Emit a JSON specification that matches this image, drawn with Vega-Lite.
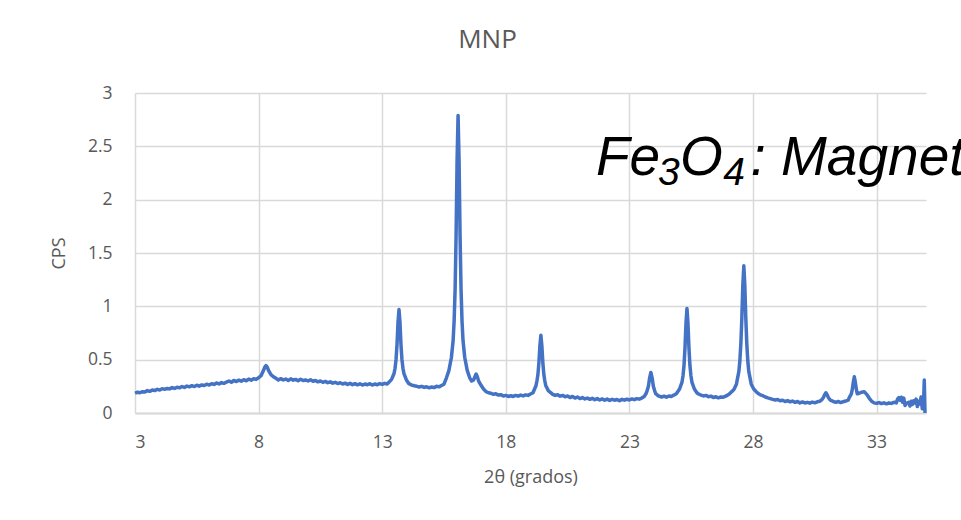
{
  "$schema": "https://vega.github.io/schema/vega-lite/v6.json",
  "width": 791,
  "height": 320,
  "autosize": {"type": "none"},
  "padding": {"left": 135, "top": 93, "right": 35, "bottom": 107},
  "background": "white",
  "config": {
    "view": {"stroke": null},
    "font": "Open Sans",
    "axis": {
      "gridColor": "#d9d9d9",
      "gridWidth": 1.5,
      "ticks": false,
      "tickSize": 0,
      "labelColor": "#595959",
      "labelFontSize": 17.5,
      "labelFont": "Open Sans",
      "titleColor": "#595959",
      "titleFontSize": 18,
      "titleFont": "Open Sans",
      "titleFontWeight": "normal"
    }
  },
  "title": {
    "text": "MNP",
    "fontSize": 26,
    "font": "Open Sans",
    "fontWeight": "normal",
    "color": "#595959",
    "anchor": "middle",
    "dx": -43,
    "offset": 31
  },
  "datasets": {
    "labels": [
      {"t": 21.65, "cps": 2.231, "txt": "Fe", "kind": "main"},
      {"t": 24.16, "cps": 2.138, "txt": "3", "kind": "sub"},
      {"t": 25.05, "cps": 2.231, "txt": "O", "kind": "main"},
      {"t": 26.8, "cps": 2.138, "txt": "4", "kind": "sub"},
      {"t": 27.9, "cps": 2.231, "txt": ": Magnetita", "kind": "main"}
    ]
  },
  "data": {
    "values": [
      {"t": 3.0, "cps": 0.185}, {"t": 3.1, "cps": 0.195}, {"t": 3.2, "cps": 0.19}, {"t": 3.3, "cps": 0.2}, {"t": 3.4, "cps": 0.197},
      {"t": 3.5, "cps": 0.21}, {"t": 3.6, "cps": 0.203}, {"t": 3.7, "cps": 0.215}, {"t": 3.8, "cps": 0.21}, {"t": 3.9, "cps": 0.222},
      {"t": 4.0, "cps": 0.215}, {"t": 4.1, "cps": 0.228}, {"t": 4.2, "cps": 0.222}, {"t": 4.3, "cps": 0.23}, {"t": 4.4, "cps": 0.226},
      {"t": 4.5, "cps": 0.238}, {"t": 4.6, "cps": 0.23}, {"t": 4.7, "cps": 0.242}, {"t": 4.8, "cps": 0.236}, {"t": 4.9, "cps": 0.248},
      {"t": 5.0, "cps": 0.24}, {"t": 5.1, "cps": 0.252}, {"t": 5.2, "cps": 0.245}, {"t": 5.3, "cps": 0.256}, {"t": 5.4, "cps": 0.248},
      {"t": 5.5, "cps": 0.26}, {"t": 5.6, "cps": 0.252}, {"t": 5.7, "cps": 0.263}, {"t": 5.8, "cps": 0.258}, {"t": 5.9, "cps": 0.27},
      {"t": 6.0, "cps": 0.262}, {"t": 6.1, "cps": 0.275}, {"t": 6.2, "cps": 0.268}, {"t": 6.3, "cps": 0.282}, {"t": 6.4, "cps": 0.272},
      {"t": 6.5, "cps": 0.285}, {"t": 6.6, "cps": 0.278}, {"t": 6.7, "cps": 0.29}, {"t": 6.8, "cps": 0.3}, {"t": 6.9, "cps": 0.288},
      {"t": 7.0, "cps": 0.305}, {"t": 7.1, "cps": 0.295}, {"t": 7.2, "cps": 0.308}, {"t": 7.3, "cps": 0.298}, {"t": 7.4, "cps": 0.312},
      {"t": 7.5, "cps": 0.302}, {"t": 7.6, "cps": 0.318}, {"t": 7.7, "cps": 0.308}, {"t": 7.8, "cps": 0.322}, {"t": 7.9, "cps": 0.315},
      {"t": 8.0, "cps": 0.33}, {"t": 8.1, "cps": 0.35}, {"t": 8.2, "cps": 0.4}, {"t": 8.25, "cps": 0.43}, {"t": 8.3, "cps": 0.445},
      {"t": 8.35, "cps": 0.43}, {"t": 8.4, "cps": 0.4}, {"t": 8.5, "cps": 0.36}, {"t": 8.6, "cps": 0.34}, {"t": 8.7, "cps": 0.325},
      {"t": 8.8, "cps": 0.31}, {"t": 8.9, "cps": 0.322}, {"t": 9.0, "cps": 0.31}, {"t": 9.1, "cps": 0.318}, {"t": 9.2, "cps": 0.305},
      {"t": 9.3, "cps": 0.32}, {"t": 9.4, "cps": 0.308}, {"t": 9.5, "cps": 0.315}, {"t": 9.6, "cps": 0.302}, {"t": 9.7, "cps": 0.316},
      {"t": 9.8, "cps": 0.305}, {"t": 9.9, "cps": 0.31}, {"t": 10.0, "cps": 0.3}, {"t": 10.1, "cps": 0.312}, {"t": 10.2, "cps": 0.298},
      {"t": 10.3, "cps": 0.305}, {"t": 10.4, "cps": 0.292}, {"t": 10.5, "cps": 0.3}, {"t": 10.6, "cps": 0.288}, {"t": 10.7, "cps": 0.296},
      {"t": 10.8, "cps": 0.284}, {"t": 10.9, "cps": 0.292}, {"t": 11.0, "cps": 0.28}, {"t": 11.1, "cps": 0.288}, {"t": 11.2, "cps": 0.276},
      {"t": 11.3, "cps": 0.284}, {"t": 11.4, "cps": 0.272}, {"t": 11.5, "cps": 0.28}, {"t": 11.6, "cps": 0.268}, {"t": 11.7, "cps": 0.278},
      {"t": 11.8, "cps": 0.266}, {"t": 11.9, "cps": 0.275}, {"t": 12.0, "cps": 0.264}, {"t": 12.1, "cps": 0.274}, {"t": 12.2, "cps": 0.262},
      {"t": 12.3, "cps": 0.272}, {"t": 12.4, "cps": 0.265}, {"t": 12.5, "cps": 0.275}, {"t": 12.6, "cps": 0.262}, {"t": 12.7, "cps": 0.272},
      {"t": 12.8, "cps": 0.265}, {"t": 12.9, "cps": 0.276}, {"t": 13.0, "cps": 0.268}, {"t": 13.1, "cps": 0.278}, {"t": 13.2, "cps": 0.272},
      {"t": 13.28, "cps": 0.29}, {"t": 13.38, "cps": 0.315}, {"t": 13.48, "cps": 0.37}, {"t": 13.52, "cps": 0.42}, {"t": 13.56, "cps": 0.5},
      {"t": 13.6, "cps": 0.64}, {"t": 13.64, "cps": 0.85}, {"t": 13.68, "cps": 0.97}, {"t": 13.72, "cps": 0.85}, {"t": 13.76, "cps": 0.64},
      {"t": 13.8, "cps": 0.5}, {"t": 13.84, "cps": 0.42}, {"t": 13.88, "cps": 0.37}, {"t": 13.98, "cps": 0.31}, {"t": 14.08, "cps": 0.275},
      {"t": 14.2, "cps": 0.262}, {"t": 14.3, "cps": 0.255}, {"t": 14.4, "cps": 0.25}, {"t": 14.5, "cps": 0.244}, {"t": 14.6, "cps": 0.25},
      {"t": 14.7, "cps": 0.24}, {"t": 14.8, "cps": 0.246}, {"t": 14.9, "cps": 0.236}, {"t": 15.0, "cps": 0.244}, {"t": 15.1, "cps": 0.238},
      {"t": 15.2, "cps": 0.25}, {"t": 15.3, "cps": 0.245}, {"t": 15.4, "cps": 0.258}, {"t": 15.5, "cps": 0.27}, {"t": 15.6, "cps": 0.33},
      {"t": 15.7, "cps": 0.4}, {"t": 15.8, "cps": 0.52}, {"t": 15.87, "cps": 0.68}, {"t": 15.91, "cps": 0.86}, {"t": 15.95, "cps": 1.16},
      {"t": 15.99, "cps": 1.67}, {"t": 16.03, "cps": 2.37}, {"t": 16.07, "cps": 2.79}, {"t": 16.11, "cps": 2.37}, {"t": 16.15, "cps": 1.67},
      {"t": 16.19, "cps": 1.16}, {"t": 16.23, "cps": 0.86}, {"t": 16.27, "cps": 0.68}, {"t": 16.34, "cps": 0.52}, {"t": 16.44, "cps": 0.4},
      {"t": 16.54, "cps": 0.33}, {"t": 16.62, "cps": 0.3}, {"t": 16.7, "cps": 0.31}, {"t": 16.75, "cps": 0.34}, {"t": 16.8, "cps": 0.365},
      {"t": 16.85, "cps": 0.34}, {"t": 16.9, "cps": 0.3}, {"t": 17.0, "cps": 0.26}, {"t": 17.1, "cps": 0.225}, {"t": 17.2, "cps": 0.2},
      {"t": 17.3, "cps": 0.19}, {"t": 17.4, "cps": 0.185}, {"t": 17.5, "cps": 0.175}, {"t": 17.6, "cps": 0.18}, {"t": 17.7, "cps": 0.168},
      {"t": 17.8, "cps": 0.172}, {"t": 17.9, "cps": 0.16}, {"t": 18.0, "cps": 0.165}, {"t": 18.1, "cps": 0.155}, {"t": 18.2, "cps": 0.162},
      {"t": 18.3, "cps": 0.155}, {"t": 18.4, "cps": 0.165}, {"t": 18.5, "cps": 0.158}, {"t": 18.6, "cps": 0.168}, {"t": 18.7, "cps": 0.16},
      {"t": 18.8, "cps": 0.17}, {"t": 18.9, "cps": 0.165}, {"t": 19.0, "cps": 0.178}, {"t": 19.1, "cps": 0.19}, {"t": 19.22, "cps": 0.255},
      {"t": 19.26, "cps": 0.3}, {"t": 19.3, "cps": 0.36}, {"t": 19.34, "cps": 0.47}, {"t": 19.38, "cps": 0.63}, {"t": 19.42, "cps": 0.73},
      {"t": 19.46, "cps": 0.63}, {"t": 19.5, "cps": 0.47}, {"t": 19.54, "cps": 0.36}, {"t": 19.58, "cps": 0.3}, {"t": 19.62, "cps": 0.255},
      {"t": 19.72, "cps": 0.21}, {"t": 19.82, "cps": 0.19}, {"t": 19.9, "cps": 0.175}, {"t": 20.0, "cps": 0.165}, {"t": 20.1, "cps": 0.172},
      {"t": 20.2, "cps": 0.158}, {"t": 20.3, "cps": 0.165}, {"t": 20.4, "cps": 0.152}, {"t": 20.5, "cps": 0.16}, {"t": 20.6, "cps": 0.145},
      {"t": 20.7, "cps": 0.155}, {"t": 20.8, "cps": 0.14}, {"t": 20.9, "cps": 0.15}, {"t": 21.0, "cps": 0.135}, {"t": 21.1, "cps": 0.145},
      {"t": 21.2, "cps": 0.132}, {"t": 21.3, "cps": 0.14}, {"t": 21.4, "cps": 0.128}, {"t": 21.5, "cps": 0.138}, {"t": 21.6, "cps": 0.125},
      {"t": 21.7, "cps": 0.135}, {"t": 21.8, "cps": 0.122}, {"t": 21.9, "cps": 0.132}, {"t": 22.0, "cps": 0.12}, {"t": 22.1, "cps": 0.13},
      {"t": 22.2, "cps": 0.118}, {"t": 22.3, "cps": 0.128}, {"t": 22.4, "cps": 0.12}, {"t": 22.5, "cps": 0.126}, {"t": 22.6, "cps": 0.116},
      {"t": 22.7, "cps": 0.128}, {"t": 22.8, "cps": 0.12}, {"t": 22.9, "cps": 0.13}, {"t": 23.0, "cps": 0.122}, {"t": 23.1, "cps": 0.132},
      {"t": 23.2, "cps": 0.125}, {"t": 23.3, "cps": 0.135}, {"t": 23.4, "cps": 0.13}, {"t": 23.5, "cps": 0.14}, {"t": 23.6, "cps": 0.155},
      {"t": 23.67, "cps": 0.18}, {"t": 23.72, "cps": 0.21}, {"t": 23.77, "cps": 0.25}, {"t": 23.82, "cps": 0.33}, {"t": 23.87, "cps": 0.38},
      {"t": 23.92, "cps": 0.33}, {"t": 23.97, "cps": 0.25}, {"t": 24.02, "cps": 0.21}, {"t": 24.07, "cps": 0.18}, {"t": 24.17, "cps": 0.16},
      {"t": 24.3, "cps": 0.15}, {"t": 24.4, "cps": 0.158}, {"t": 24.5, "cps": 0.148}, {"t": 24.6, "cps": 0.16}, {"t": 24.7, "cps": 0.155},
      {"t": 24.8, "cps": 0.168}, {"t": 24.9, "cps": 0.18}, {"t": 25.03, "cps": 0.225}, {"t": 25.13, "cps": 0.29}, {"t": 25.17, "cps": 0.35},
      {"t": 25.21, "cps": 0.445}, {"t": 25.25, "cps": 0.61}, {"t": 25.29, "cps": 0.84}, {"t": 25.33, "cps": 0.98}, {"t": 25.37, "cps": 0.84},
      {"t": 25.41, "cps": 0.61}, {"t": 25.45, "cps": 0.445}, {"t": 25.49, "cps": 0.35}, {"t": 25.53, "cps": 0.29}, {"t": 25.63, "cps": 0.225},
      {"t": 25.73, "cps": 0.19}, {"t": 25.8, "cps": 0.178}, {"t": 25.9, "cps": 0.168}, {"t": 26.0, "cps": 0.16}, {"t": 26.1, "cps": 0.165},
      {"t": 26.2, "cps": 0.152}, {"t": 26.3, "cps": 0.158}, {"t": 26.4, "cps": 0.145}, {"t": 26.5, "cps": 0.152}, {"t": 26.6, "cps": 0.142},
      {"t": 26.7, "cps": 0.15}, {"t": 26.8, "cps": 0.148}, {"t": 26.9, "cps": 0.158}, {"t": 27.03, "cps": 0.175}, {"t": 27.23, "cps": 0.22},
      {"t": 27.33, "cps": 0.27}, {"t": 27.43, "cps": 0.39}, {"t": 27.47, "cps": 0.49}, {"t": 27.51, "cps": 0.65}, {"t": 27.55, "cps": 0.89},
      {"t": 27.59, "cps": 1.2}, {"t": 27.63, "cps": 1.38}, {"t": 27.67, "cps": 1.2}, {"t": 27.71, "cps": 0.89}, {"t": 27.75, "cps": 0.65},
      {"t": 27.79, "cps": 0.49}, {"t": 27.83, "cps": 0.39}, {"t": 27.93, "cps": 0.27}, {"t": 28.03, "cps": 0.225}, {"t": 28.13, "cps": 0.2},
      {"t": 28.2, "cps": 0.185}, {"t": 28.3, "cps": 0.17}, {"t": 28.4, "cps": 0.162}, {"t": 28.5, "cps": 0.15}, {"t": 28.6, "cps": 0.142},
      {"t": 28.7, "cps": 0.135}, {"t": 28.8, "cps": 0.128}, {"t": 28.9, "cps": 0.122}, {"t": 29.0, "cps": 0.126}, {"t": 29.1, "cps": 0.115},
      {"t": 29.2, "cps": 0.12}, {"t": 29.3, "cps": 0.108}, {"t": 29.4, "cps": 0.116}, {"t": 29.5, "cps": 0.105}, {"t": 29.6, "cps": 0.112},
      {"t": 29.7, "cps": 0.1}, {"t": 29.8, "cps": 0.108}, {"t": 29.9, "cps": 0.095}, {"t": 30.0, "cps": 0.104}, {"t": 30.1, "cps": 0.094},
      {"t": 30.2, "cps": 0.1}, {"t": 30.3, "cps": 0.092}, {"t": 30.4, "cps": 0.102}, {"t": 30.5, "cps": 0.096}, {"t": 30.6, "cps": 0.105},
      {"t": 30.7, "cps": 0.11}, {"t": 30.75, "cps": 0.118}, {"t": 30.8, "cps": 0.129}, {"t": 30.85, "cps": 0.145}, {"t": 30.9, "cps": 0.172},
      {"t": 30.95, "cps": 0.19}, {"t": 31.0, "cps": 0.172}, {"t": 31.05, "cps": 0.145}, {"t": 31.1, "cps": 0.129}, {"t": 31.15, "cps": 0.118},
      {"t": 31.25, "cps": 0.108}, {"t": 31.35, "cps": 0.1}, {"t": 31.45, "cps": 0.108}, {"t": 31.55, "cps": 0.098}, {"t": 31.65, "cps": 0.106},
      {"t": 31.75, "cps": 0.112}, {"t": 31.85, "cps": 0.12}, {"t": 31.9, "cps": 0.147}, {"t": 31.98, "cps": 0.18}, {"t": 32.02, "cps": 0.223},
      {"t": 32.06, "cps": 0.29}, {"t": 32.1, "cps": 0.34}, {"t": 32.14, "cps": 0.29}, {"t": 32.18, "cps": 0.223}, {"t": 32.22, "cps": 0.18},
      {"t": 32.3, "cps": 0.185}, {"t": 32.4, "cps": 0.195}, {"t": 32.5, "cps": 0.2}, {"t": 32.6, "cps": 0.175}, {"t": 32.7, "cps": 0.14},
      {"t": 32.8, "cps": 0.11}, {"t": 32.9, "cps": 0.095}, {"t": 33.0, "cps": 0.09}, {"t": 33.1, "cps": 0.098}, {"t": 33.2, "cps": 0.088},
      {"t": 33.3, "cps": 0.095}, {"t": 33.4, "cps": 0.086}, {"t": 33.5, "cps": 0.094}, {"t": 33.6, "cps": 0.09}, {"t": 33.7, "cps": 0.1},
      {"t": 33.8, "cps": 0.095}, {"t": 33.85, "cps": 0.13}, {"t": 33.9, "cps": 0.145}, {"t": 33.95, "cps": 0.12}, {"t": 34.0, "cps": 0.148},
      {"t": 34.05, "cps": 0.1}, {"t": 34.1, "cps": 0.14}, {"t": 34.15, "cps": 0.07}, {"t": 34.2, "cps": 0.09}, {"t": 34.3, "cps": 0.1},
      {"t": 34.35, "cps": 0.065}, {"t": 34.4, "cps": 0.11}, {"t": 34.45, "cps": 0.08}, {"t": 34.5, "cps": 0.115}, {"t": 34.55, "cps": 0.095},
      {"t": 34.6, "cps": 0.13}, {"t": 34.65, "cps": 0.06}, {"t": 34.7, "cps": 0.11}, {"t": 34.75, "cps": 0.085}, {"t": 34.8, "cps": 0.15},
      {"t": 34.85, "cps": 0.04}, {"t": 34.9, "cps": 0.09}, {"t": 34.93, "cps": 0.31}, {"t": 34.96, "cps": 0.0}
    ]
  },
  "layer": [
    {
      "mark": {"type": "line", "color": "#4472C4", "strokeWidth": 3.5, "strokeJoin": "round", "interpolate": "linear"},
      "encoding": {
        "x": {
          "field": "t", "type": "quantitative",
          "scale": {"domain": [3, 35], "nice": false, "zero": false},
          "axis": {
            "title": "2θ (grados)",
            "values": [3, 8, 13, 18, 23, 28, 33],
            "format": "~g",
            "grid": true,
            "domain": true,
            "domainColor": "#d9d9d9",
            "domainWidth": 2,
            "labelPadding": 20,
            "titlePadding": 18
          }
        },
        "y": {
          "field": "cps", "type": "quantitative",
          "scale": {"domain": [0, 3], "nice": false},
          "axis": {
            "title": "CPS",
            "values": [0, 0.5, 1, 1.5, 2, 2.5, 3],
            "format": "~g",
            "grid": true,
            "domain": false,
            "labelPadding": 23,
            "titlePadding": 19
          }
        }
      }
    },
    {
      "data": {"name": "labels"},
      "transform": [{"filter": "datum.kind === 'main'"}],
      "mark": {"type": "text", "align": "left", "baseline": "alphabetic", "font": "Liberation Sans", "fontStyle": "italic", "fontSize": 55, "color": "black"},
      "encoding": {
        "x": {"field": "t", "type": "quantitative"},
        "y": {"field": "cps", "type": "quantitative"},
        "text": {"field": "txt"}
      }
    },
    {
      "data": {"name": "labels"},
      "transform": [{"filter": "datum.kind === 'sub'"}],
      "mark": {"type": "text", "align": "left", "baseline": "alphabetic", "font": "Liberation Sans", "fontStyle": "italic", "fontSize": 39, "color": "black"},
      "encoding": {
        "x": {"field": "t", "type": "quantitative"},
        "y": {"field": "cps", "type": "quantitative"},
        "text": {"field": "txt"}
      }
    }
  ]
}
